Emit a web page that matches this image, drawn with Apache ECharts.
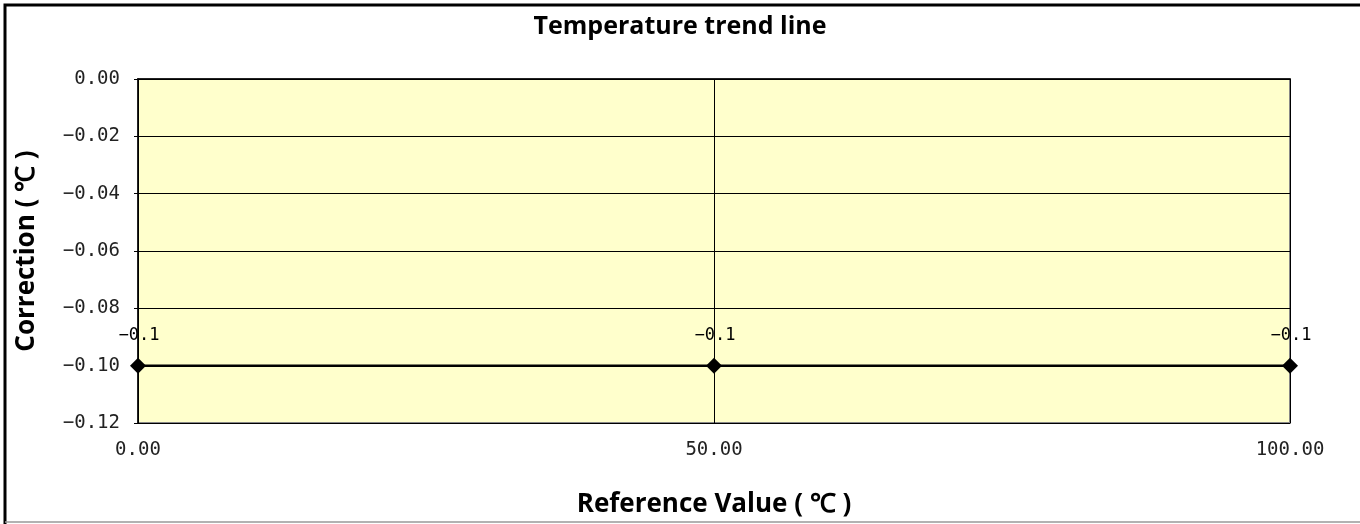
<!DOCTYPE html>
<html><head><meta charset="utf-8">
<script src="https://cdn.jsdelivr.net/npm/echarts@6/dist/echarts.min.js"></script>
<style>html,body{margin:0;padding:0;background:#fff}#c{width:1360px;height:524px}</style>
</head><body><div id="c"></div>
<script>
const xValues = [0, 50, 100];
const corrections = [-0.1, -0.1, -0.1];
const titleText = 'Temperature trend line';
const xName = 'Reference Value ( ℃ )';
const yName = 'Correction ( ℃ )';

const fmt = (v, d) => (v < 0 ? '\u2212' : '') + Math.abs(v).toFixed(d);
const NAMEFONT = 'Open Sans';
const TICKFONT = 'DejaVu Sans Mono';
const chart = echarts.init(document.getElementById('c'), null, {renderer: 'canvas'});
chart.setOption({
  animation: false,
  backgroundColor: '#fff',
  textStyle: {fontFamily: TICKFONT},
  title: {text: titleText, left: 'center', top: 9,
    textStyle: {fontSize: 25, fontWeight: 'bold', color: '#000', fontFamily: NAMEFONT}},
  graphic: [
    {type: 'polyline', shape: {points: [[5, 524], [5, 5], [1362, 5]]}, style: {stroke: '#000', lineWidth: 3, fill: null}},
    {type: 'line', shape: {x1: 5, y1: 522, x2: 1360, y2: 522}, style: {stroke: '#999', lineWidth: 1.5}}
  ],
  grid: {left: 138, right: 70, top: 79, bottom: 101, show: true,
    backgroundColor: '#ffffcc', borderColor: '#888', borderWidth: 2},
  xAxis: {type: 'value', min: 0, max: 100, interval: 50,
    name: xName, nameLocation: 'middle', nameGap: 69,
    nameTextStyle: {fontSize: 26, fontWeight: 'bold', color: '#000', fontFamily: NAMEFONT},
    axisLine: {show: true, lineStyle: {color: '#000', width: 1.5}},
    axisTick: {show: false},
    axisLabel: {margin: 18, fontSize: 19, color: '#222', fontFamily: TICKFONT, formatter: v => v.toFixed(2)},
    splitLine: {show: true, lineStyle: {color: '#000', width: 1}}},
  yAxis: {type: 'value', min: -0.12, max: 0, interval: 0.02,
    name: yName, nameLocation: 'middle', nameGap: 98, nameRotate: 90,
    nameTextStyle: {fontSize: 26, fontWeight: 'bold', color: '#000', fontFamily: NAMEFONT},
    axisLine: {show: true, lineStyle: {color: '#000', width: 1.5}},
    axisTick: {show: true, length: 4, inside: false, lineStyle: {color: '#000'}},
    axisLabel: {margin: 18, fontSize: 19, color: '#222', fontFamily: TICKFONT, formatter: v => fmt(v, 2)},
    splitLine: {show: true, lineStyle: {color: '#000', width: 1}}},
  series: [{
    type: 'line',
    data: xValues.map((x, i) => [x, corrections[i]]),
    symbol: 'diamond', symbolSize: 16,
    itemStyle: {color: '#000'},
    lineStyle: {color: '#000', width: 2.5},
    label: {show: true, position: 'top', distance: 14, offset: [1, 0],
      fontSize: 17, color: '#000', fontFamily: TICKFONT,
      formatter: p => fmt(p.value[1], 1)}
  }]
});
</script></body></html>
